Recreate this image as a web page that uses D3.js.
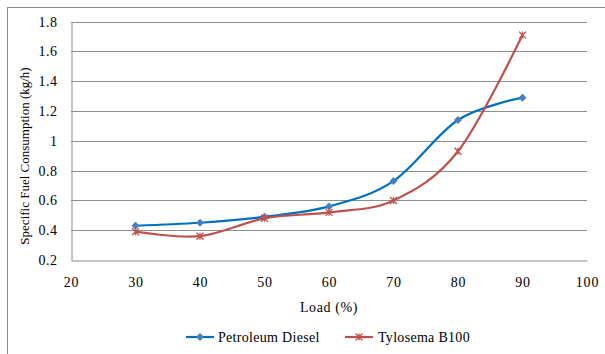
<!DOCTYPE html>
<html>
<head>
<meta charset="utf-8">
<script src="https://cdn.jsdelivr.net/npm/d3@7/dist/d3.min.js"></script>
<style>
  html, body { margin: 0; padding: 0; background: #fff; }
  svg { display: block; font-family: "Liberation Serif", "Times New Roman", "DejaVu Serif", serif; }
  svg text { font-family: "Liberation Serif", "Times New Roman", "DejaVu Serif", serif !important; fill: #000; }
</style>
</head>
<body>
<svg id="chart" width="605" height="354"></svg>
<script>
// Engine load (%) at each test point
const loads = [30, 40, 50, 60, 70, 80, 90];
// Specific fuel consumption (kg/h) per fuel
const dieselValues = [0.43, 0.45, 0.49, 0.56, 0.73, 1.14, 1.29];
const tylosemaValues = [0.39, 0.36, 0.48, 0.52, 0.60, 0.93, 1.71];
const seriesNames = ["Petroleum Diesel", "Tylosema B100"];
const xTicks = [20, 30, 40, 50, 60, 70, 80, 90, 100];
const yTicks = [0.2, 0.4, 0.6, 0.8, 1.0, 1.2, 1.4, 1.6, 1.8];
const xTitle = "Load (%)";
const yTitle = "Specific Fuel Consumption (kg/h)";

const FONT = '"Liberation Serif", "Times New Roman", "DejaVu Serif", serif';
const svg = d3.select("#chart");
const plot = { left: 71, right: 587, top: 21.7, bottom: 260 };

// Chart frame
svg.append("rect")
  .attr("x", 7.5).attr("y", 7.5)
  .attr("width", 610).attr("height", 360)
  .attr("fill", "#fff").attr("stroke", "#8c8c8c").attr("stroke-width", 1);

const x = d3.scaleLinear().domain([20, 100]).range([plot.left, plot.right]);
const y = d3.scaleLinear().domain([0.2, 1.8]).range([plot.bottom, plot.top]);

// Horizontal gridlines
svg.append("g")
  .selectAll("line")
  .data(yTicks.slice(1))
  .join("line")
  .attr("x1", plot.left).attr("x2", plot.right)
  .attr("y1", d => Math.round(y(d)) + 0.5).attr("y2", d => Math.round(y(d)) + 0.5)
  .attr("stroke", "#8e8e8e").attr("stroke-width", 1);

// Axes
const xAxis = svg.append("g")
  .attr("transform", `translate(0,${Math.round(plot.bottom) + 0.5})`)
  .call(d3.axisBottom(x).tickValues(xTicks).tickFormat(d3.format("d")).tickSize(0).tickPadding(17));
xAxis.attr("font-family", FONT).attr("font-size", 14);
xAxis.selectAll("text").attr("letter-spacing", 0.8);
xAxis.select(".domain").attr("stroke", "#8e8e8e");

const yAxis = svg.append("g")
  .attr("transform", `translate(${plot.left + 0.5},0)`)
  .call(d3.axisLeft(y).tickValues(yTicks).tickFormat(d => String(+d.toFixed(1))).tickSize(0).tickPadding(14));
yAxis.attr("font-family", FONT).attr("font-size", 14);
yAxis.selectAll("text").attr("letter-spacing", 0.5);
yAxis.select(".domain").attr("stroke", "#8e8e8e");

// Axis titles
svg.append("text")
  .attr("x", (plot.left + plot.right) / 2).attr("y", 312)
  .attr("text-anchor", "middle").attr("font-size", 14).attr("font-family", FONT)
  .attr("letter-spacing", 0.6)
  .text(xTitle);

svg.append("text")
  .attr("transform", "translate(29,156) rotate(-90)")
  .attr("text-anchor", "middle").attr("font-size", 13).attr("font-family", FONT)
  .text(yTitle);

// Smoothed series lines
const line = d3.line()
  .x(d => x(d[0])).y(d => y(d[1]))
  .curve(d3.curveCatmullRom.alpha(0));

const series = [
  { name: seriesNames[0], values: dieselValues, color: "#0070C0", marker: "#4A7EBB", shape: "diamond" },
  { name: seriesNames[1], values: tylosemaValues, color: "#C0504D", marker: "#C0504D", shape: "star" }
];

function drawMarker(g, shape, color, cx, cy) {
  if (shape === "diamond") {
    g.append("path")
      .attr("d", `M${cx},${cy - 4}L${cx + 4},${cy}L${cx},${cy + 4}L${cx - 4},${cy}Z`)
      .attr("fill", color);
  } else {
    const r = 3.5;
    g.append("path")
      .attr("d", `M${cx - r},${cy - r}L${cx + r},${cy + r}M${cx - r},${cy + r}L${cx + r},${cy - r}M${cx},${cy - r}L${cx},${cy + r}`)
      .attr("stroke", color).attr("stroke-width", 1.3).attr("fill", "none");
  }
}

series.forEach(s => {
  const pts = loads.map((l, i) => [l, s.values[i]]);
  svg.append("path")
    .datum(pts)
    .attr("d", line)
    .attr("fill", "none")
    .attr("stroke", s.color)
    .attr("stroke-width", 2.2);
  const mg = svg.append("g");
  pts.forEach(p => drawMarker(mg, s.shape, s.marker, x(p[0]), y(p[1])));
});

// Legend
const legendPos = [{ x1: 186, tx: 218 }, { x1: 345, tx: 378 }];
series.forEach((s, i) => {
  const g = svg.append("g");
  const lx = legendPos[i].x1, ly = 337;
  g.append("line")
    .attr("x1", lx).attr("x2", lx + 28).attr("y1", ly).attr("y2", ly)
    .attr("stroke", s.color).attr("stroke-width", 2.2);
  drawMarker(g, s.shape, s.marker, lx + 14, ly);
  g.append("text")
    .attr("x", legendPos[i].tx).attr("y", ly + 5)
    .attr("font-size", 14).attr("font-family", FONT)
    .attr("letter-spacing", 0.3)
    .text(s.name);
});
</script>
</body>
</html>
